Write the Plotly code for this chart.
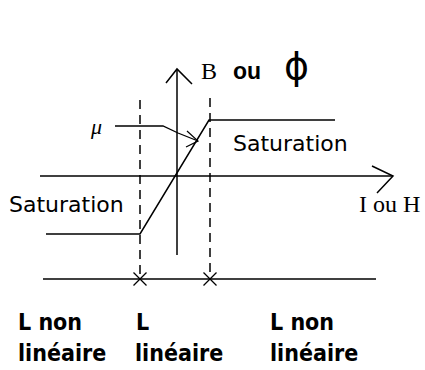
import plotly.graph_objects as go

# --- diagram data (pixel-like coordinates, y grows downward) ---
h_axis_x = [40, 393]
h_axis_y = [176, 176]
h_arrow_x = [372, 393, 377]
h_arrow_y = [166, 176, 193]

v_axis_x = [177, 177]
v_axis_y = [255, 69]
v_arrow_x = [166, 177, 192]
v_arrow_y = [83, 69, 84]

curve_x = [46, 140, 209, 335]
curve_y = [234, 234, 120, 120]

dash_left_x = [140, 140]
dash_left_y = [100, 277]
dash_right_x = [210, 210]
dash_right_y = [98, 277]

base_x = [43, 376]
base_y = [279, 279]
cross_x = [140, 210]
cross_y = [279, 279]

mu_x = [115, 163, 178, 198]
mu_y = [126, 126, 133, 141]
mu_head_x = [187, 198, 186]
mu_head_y = [131, 141, 147]

fig = go.Figure()

def line(xs, ys, dash="solid", width=1.5):
    fig.add_trace(go.Scatter(x=xs, y=ys, mode="lines",
                             line=dict(color="black", width=width, dash=dash),
                             hoverinfo="skip", showlegend=False))

line(h_axis_x, h_axis_y)
line(h_arrow_x, h_arrow_y)
line(v_axis_x, v_axis_y)
line(v_arrow_x, v_arrow_y)
line(curve_x, curve_y)
line(dash_left_x, dash_left_y, dash="9px,6px")
line(dash_right_x, dash_right_y, dash="9px,6px")
line(base_x, base_y)
line(mu_x, mu_y, width=1.3)
line(mu_head_x, mu_head_y, width=1.2)

fig.add_trace(go.Scatter(x=cross_x, y=cross_y, mode="markers",
                         marker=dict(symbol="x-thin", size=13,
                                     line=dict(color="black", width=1.3)),
                         hoverinfo="skip", showlegend=False))

def txt(x, y, s, size, family, xanchor="center", color="black"):
    fig.add_annotation(x=x, y=y, text=s, showarrow=False, xanchor=xanchor,
                       yanchor="middle", font=dict(size=size, family=family, color=color))

txt(209, 71, "B", 24, "Liberation Serif")
txt(247, 71, "<b>ou</b>", 23, "Liberation Sans")
txt(296, 66, "ϕ", 38, "DejaVu Sans ExtraLight, DejaVu Sans")
txt(96, 126, "<i>μ</i>", 22, "Liberation Serif")
txt(290, 143, "Saturation", 22, "DejaVu Sans")
txt(66, 204, "Saturation", 22, "DejaVu Sans")
txt(389, 204, "I ou H", 24, "Liberation Serif")

bold = "DejaVu Sans Condensed, DejaVu Sans"
txt(16, 322, "<b>L non</b>", 23, bold, xanchor="left")
txt(16, 353, "<b>linéaire</b>", 23, bold, xanchor="left")
txt(134, 322, "<b>L</b>", 23, bold, xanchor="left")
txt(133, 353, "<b>linéaire</b>", 23, bold, xanchor="left")
txt(268, 322, "<b>L non</b>", 23, bold, xanchor="left")
txt(268, 353, "<b>linéaire</b>", 23, bold, xanchor="left")

fig.update_layout(
    width=425, height=370,
    margin=dict(l=0, r=0, t=0, b=0),
    paper_bgcolor="white", plot_bgcolor="white",
    xaxis=dict(range=[0, 425], visible=False, fixedrange=True),
    yaxis=dict(range=[370, 0], visible=False, fixedrange=True),
)

fig.write_html("out.html", config={"displayModeBar": False},
               post_script="document.body.style.margin='0';document.body.style.overflow='hidden';")
